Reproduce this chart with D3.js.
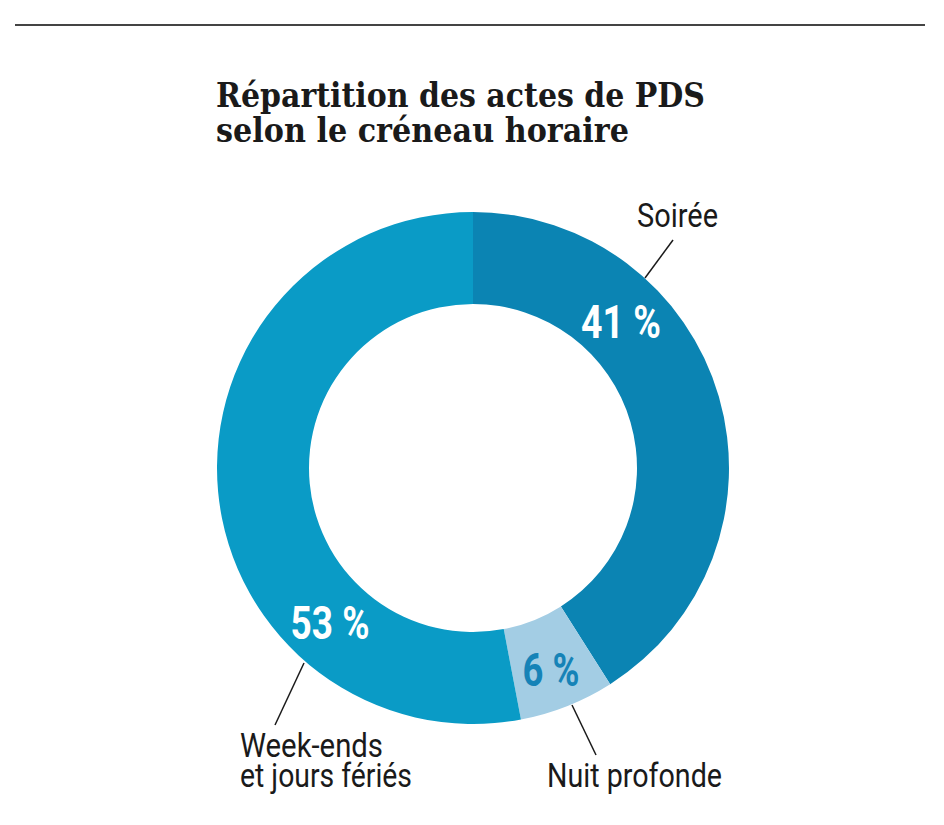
<!DOCTYPE html>
<html><head><meta charset="utf-8">
<script src="https://cdn.jsdelivr.net/npm/d3@7"></script>
<style>body{margin:0;background:#fff}</style>
</head><body>
<svg id="c" width="944" height="825"></svg>
<script>
const categories = ["Soirée", "Nuit profonde", "Week-ends et jours fériés"];
const values = [41, 6, 53];
const valueLabels = ["41 %", "6 %", "53 %"];
const titleLines = ["Répartition des actes de PDS", "selon le créneau horaire"];

const colors = ["#0b84b3", "#a3cde4", "#0a9bc6"];
const labelColors = ["#ffffff", "#1683b7", "#ffffff"];

const svg = d3.select("#c");
svg.append("line").attr("x1",15).attr("x2",925).attr("y1",25).attr("y2",25)
  .attr("stroke","#444").attr("stroke-width",2);

function fit(sel, w){
  sel.attr("textLength", w).attr("lengthAdjust","spacingAndGlyphs");
}
const title = svg.append("g");
const tw = [489, 413];
titleLines.forEach((t,i)=>{
  title.append("text").attr("x",216).attr("y",107+i*35).text(t)
    .attr("font-family","DejaVu Serif, Liberation Serif, serif").attr("font-weight","bold")
    .attr("font-size",33).attr("fill","#1a1a1a").call(fit, tw[i]);
});

const cx = 473, cy = 468, rOut = 256, rIn = 164;
const pie = d3.pie().sort(null).value(d=>d)(values);
const arc = d3.arc().innerRadius(rIn).outerRadius(rOut);
const g = svg.append("g").attr("transform",`translate(${cx},${cy})`);
g.selectAll("path").data(pie).join("path").attr("d",arc).attr("fill",(d,i)=>colors[i]);

// value labels
const lblPos = [[148, -147], [78, 201], [-143, 154]];
const lblW = [80, 57, 79];
g.selectAll("text.v").data(pie).join("text").attr("class","v")
  .attr("x",(d,i)=>lblPos[i][0]).attr("y",(d,i)=>lblPos[i][1]+17)
  .attr("text-anchor","middle")
  .attr("font-family","Roboto, Liberation Sans, sans-serif").attr("font-weight","bold")
  .attr("font-size",46).attr("fill",(d,i)=>labelColors[i])
  .text((d,i)=>valueLabels[i]).each(function(d,i){ d3.select(this).call(fit,lblW[i]); });

const lines = [[[673,240],[645,278]],[[596,755],[572,705]],[[275,725],[304,663]]];
lines.forEach(l=>{
  svg.append("line").attr("x1",l[0][0]).attr("y1",l[0][1]).attr("x2",l[1][0]).attr("y2",l[1][1])
    .attr("stroke","#1a1a1a").attr("stroke-width",1.5);
});

const catText = [
  {lines:["Soirée"], x:637, y:227, w:[81]},
  {lines:["Nuit profonde"], x:547, y:787, w:[175]},
  {lines:["Week-ends","et jours fériés"], x:240, y:757, w:[143,172]}
];
catText.forEach(c=>{
  c.lines.forEach((t,j)=>{
    svg.append("text").attr("x",c.x).attr("y",c.y+j*30).text(t)
      .attr("font-family","Roboto, Liberation Sans, sans-serif").attr("font-size",33)
      .attr("fill","#1a1a1a").call(fit,c.w[j]);
  });
});
</script>
</body></html>
